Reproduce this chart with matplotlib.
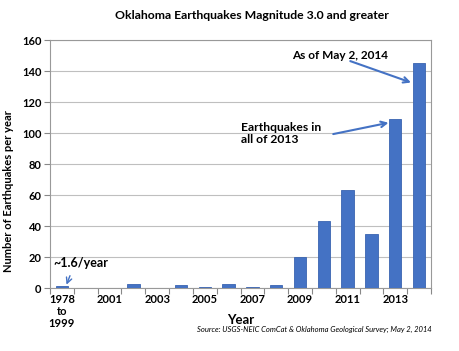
import matplotlib
matplotlib.use("Agg")
import matplotlib.pyplot as plt
import numpy as np

plt.rcParams['font.family'] = ['Lato', 'DejaVu Sans']

# ---------- Data ----------
years = ["1978\nto\n1999", "2000", "2001", "2002", "2003", "2004", "2005", "2006",
         "2007", "2008", "2009", "2010", "2011", "2012", "2013", "2014"]
quakes = [1.6, 0, 0, 3, 0, 2, 1, 3, 1, 2, 20, 43, 63, 35, 109, 145]
yTicks = [0, 20, 40, 60, 80, 100, 120, 140, 160]

barColor = '#4472C4'
gridColor = '#bfbfbf'

# ---------- Plot ----------
fig = plt.figure(figsize=(4.59, 3.51), dpi=100)
ax = fig.add_axes([0.109, 0.179, 0.830, 0.707])

x = np.arange(len(years))
ax.bar(x, quakes, width=0.52, color=barColor, edgecolor='#3a64b0', linewidth=0.6, zorder=3)

ax.set_xlim(-0.5, len(years) - 0.5)
ax.set_ylim(0, 160)
ax.set_yticks(yTicks)
ax.set_yticklabels([str(v) for v in yTicks], fontsize=8, fontweight='bold')

# labels only on every other category, ticks at category boundaries
ax.set_xticks(x[::2])
ax.set_xticklabels(years[::2], fontsize=8, fontweight='bold', linespacing=1.1)
ax.tick_params(axis='x', length=0, pad=4)
ax.set_xticks(np.arange(-0.5, len(years), 1), minor=True)
ax.tick_params(axis='x', which='minor', length=4, color='#888888', width=0.8)
ax.tick_params(axis='y', length=4, color='#888888', width=0.8, pad=2)

ax.grid(axis='y', color=gridColor, linewidth=0.8, zorder=0)
for s in ax.spines.values():
    s.set_color('#999999')
    s.set_linewidth(0.8)

ax.set_ylabel("Number of Earthquakes per year", fontsize=8, fontweight='bold')
ax.yaxis.set_label_coords(-0.095, 0.39)
ax.set_xlabel("Year", fontsize=9.5, fontweight='bold')
ax.xaxis.set_label_coords(0.5, -0.105)

fig.text(0.549, 0.955, "Oklahoma Earthquakes Magnitude 3.0 and greater",
         ha='center', va='center', fontsize=8.8, fontweight='bold')
fig.text(0.94, 0.06, "Source: USGS-NEIC ComCat & Oklahoma Geological Survey; May 2, 2014",
         ha='right', va='center', fontsize=5.5, style='italic')

# ---------- Annotations ----------
arrowStyle = dict(arrowstyle='->', color=barColor, lw=1.5)
ax.text(9.66, 150, "As of May 2, 2014", fontsize=8.5, fontweight='bold', va='center')
ax.annotate("", xy=(14.77, 132), xytext=(12.0, 147), arrowprops=arrowStyle)
ax.text(7.53, 99.7, "Earthquakes in\nall of 2013", fontsize=8.7, fontweight='bold',
        va='center', linespacing=1.2)
ax.annotate("", xy=(13.83, 107), xytext=(11.28, 99), arrowprops=arrowStyle)
ax.text(-0.35, 16, "~1.6/year", fontsize=9, fontweight='bold', va='center')
ax.annotate("", xy=(0.15, 0.6), xytext=(0.38, 9.7),
            arrowprops=dict(arrowstyle='->', color=barColor, lw=1.0))

fig.savefig("out.png", dpi=100)
